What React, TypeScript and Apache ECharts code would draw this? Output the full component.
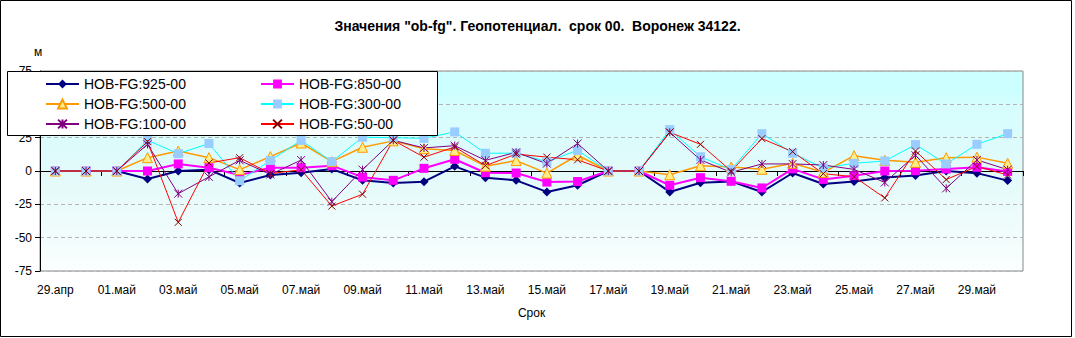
import React, { useEffect, useRef } from 'react';
import * as echarts from 'echarts';

const dates = [
  '29.апр', '30.апр', '01.май', '02.май', '03.май', '04.май', '05.май', '06.май',
  '07.май', '08.май', '09.май', '10.май', '11.май', '12.май', '13.май', '14.май',
  '15.май', '16.май', '17.май', '18.май', '19.май', '20.май', '21.май', '22.май',
  '23.май', '24.май', '25.май', '26.май', '27.май', '28.май', '29.май', '30.май',
];

const yTicks = [-75, -50, -25, 0, 25, 50, 75];

const s925 = [0, 0, 0, -6, 0, 1, -9, -3, -1.3, 1.5, -7, -9, -8, 3.5, -5, -7, -15.7, -10.7, 0, 0, -15.7, -8.8, -7.8, -15.7, -1.5, -9.7, -7.8, -4.8, -3.3, 0, -1.6, -7.2];
const s850 = [0, 0, 0, 0, 5.3, 2.5, -3, 2.4, 2.5, 4, -4.6, -7, 2, 8.8, -1.3, -1.5, -8.3, -7.9, 0, 0, -10.7, -5, -7.7, -12.7, 1.6, -6.3, -3.5, 0, 0.2, 1.5, 2.8, -0.3];
const s500 = [0, 0, 0, 10, 15, 10, 1, 10.8, 21, 7, 17.8, 22.6, 16.7, 15.4, 3.6, 7.8, -1.6, 11.8, 0, 0, -2.8, 4, 3, 1.3, 5.8, -1, 11.5, 8, 6.5, 10, 10.4, 5.8];
const s300 = [0, 0, 0, 23, 13, 20.6, -7.3, 7.9, 23, 7, 25.3, 25, 24.5, 29.3, 13.3, 13.4, 7, 15.5, 0, 0, 31, 10.7, 1, 28, 13.3, 2.2, 5.8, 7.5, 19.8, 5.3, 20, 28];
const s100 = [0, 0, 0, 20, -17, -4.4, 8, -2.6, 8.2, -23, 1, 23, 17.3, 19, 8, 14, 5.5, 20.6, 0, 0, 29, 8.3, -1, 5.3, 5.3, 4.5, 1.2, -8.6, 11.8, -13, 8.3, 1];
const s50 = [0, 0, 0, 22, -38.5, 6, 10, -2, 1, -26.3, -17.4, 23, 10.4, 18, 4, 12.7, 10.4, 8.4, 0, 0, 29, 20, 0, 24.3, 14.5, -2, -4.3, -20.2, 15, -6.4, 3.4, -3];

const names = ['HOB-FG:925-00', 'HOB-FG:850-00', 'HOB-FG:500-00', 'HOB-FG:300-00', 'HOB-FG:100-00', 'HOB-FG:50-00'];

const titleText = 'Значения "ob-fg". Геопотенциал.  срок 00.  Воронеж 34122.';

export default function App() {
  const ref = useRef<HTMLDivElement>(null);
  useEffect(() => {
    const chart = echarts.init(ref.current as HTMLDivElement, null, { renderer: 'svg' });
    const font = "'Liberation Sans', Arial, sans-serif";
    const mk = (name: string, data: number[], color: string, width: number, symbol: string, symbolSize: number, itemStyle: any) => ({
      type: 'line',
      name,
      data,
      symbol,
      symbolSize,
      showSymbol: true,
      showAllSymbol: true,
      lineStyle: { color, width },
      itemStyle,
      emphasis: { disabled: true },
      z: 3,
    });
    const legendCommon = {
      orient: 'vertical',
      itemWidth: 33,
      itemHeight: 11,
      itemGap: 6,
      padding: 0,
      selectedMode: false,
      z: 6,
      textStyle: { fontSize: 14, color: '#000', fontFamily: font },
    };
    chart.setOption({
      animation: false,
      title: {
        text: titleText,
        left: 'center',
        top: 14,
        textStyle: { fontSize: 14, fontWeight: 'bold', color: '#000', fontFamily: font },
      },
      grid: {
        left: 40,
        top: 71,
        width: 983,
        height: 200,
        show: true,
        borderColor: '#888',
        borderWidth: 1,
        backgroundColor: {
          type: 'linear', x: 0, y: 0, x2: 0, y2: 1,
          colorStops: [
            { offset: 0, color: '#ccffff' },
            { offset: 0.1, color: '#ccffff' },
            { offset: 0.17, color: '#d6fdfd' },
            { offset: 0.5, color: '#e2fafa' },
            { offset: 0.83, color: '#f2fcfc' },
            { offset: 1, color: '#fbfefe' },
          ],
        },
      },
      legend: [
        { ...legendCommon, left: 45, top: 77, data: [names[0], names[2], names[4]] },
        { ...legendCommon, left: 260, top: 77, data: [names[1], names[3], names[5]] },
      ],
      xAxis: {
        type: 'category',
        data: dates,
        boundaryGap: true,
        name: 'Срок',
        nameLocation: 'middle',
        nameGap: 36,
        nameTextStyle: { fontSize: 12, color: '#000', fontFamily: font },
        axisLine: { lineStyle: { color: '#000', width: 1 } },
        axisTick: { show: true, interval: 1, length: 5, lineStyle: { color: '#000' } },
        axisLabel: { interval: 1, fontSize: 12, color: '#000', margin: 13, fontFamily: font },
        splitLine: { show: false },
      },
      yAxis: {
        type: 'value',
        min: yTicks[0],
        max: yTicks[yTicks.length - 1],
        interval: 25,
        axisLine: { show: true, lineStyle: { color: '#000', width: 1 } },
        axisTick: { show: true, length: 5, lineStyle: { color: '#000' } },
        axisLabel: { fontSize: 12, color: '#000', margin: 8, fontFamily: font },
        splitLine: { show: true, lineStyle: { color: '#b4b4b4', type: [4, 3], width: 1 } },
      },
      graphic: [
        {
          type: 'rect', z: 0, silent: true,
          shape: { x: 0.5, y: 0.5, width: 1071, height: 336 },
          style: { fill: 'none', stroke: '#000', lineWidth: 1 },
        },
        {
          type: 'rect', z: 5, silent: true,
          shape: { x: 7.5, y: 71.5, width: 430, height: 64 },
          style: { fill: '#fff', stroke: '#000', lineWidth: 1 },
        },
        {
          type: 'text', z: 5, silent: true, left: 34, top: 46,
          style: { text: 'м', fontSize: 12, fill: '#000', fontFamily: font },
        },
      ],
      series: [
        mk(names[0], s925, '#000080', 2, 'diamond', 9, { color: '#000080' }),
        mk(names[1], s850, '#ff00ff', 2, 'rect', 9, { color: '#ff00ff' }),
        mk(names[2], s500, '#ff9900', 1.5, 'triangle', 10, { color: '#ffee88', borderColor: '#ff9900', borderWidth: 1 }),
        mk(names[3], s300, '#00ffff', 1, 'rect', 9, { color: '#99ccff' }),
        mk(names[4], s100, '#800080', 1, 'path://M5 0L5 10M0 0L10 10M10 0L0 10', 8, { color: '#800080', borderColor: '#800080', borderWidth: 1 }),
        mk(names[5], s50, '#ff0000', 1, 'path://M0 0L10 10M10 0L0 10', 7, { color: '#800000', borderColor: '#800000', borderWidth: 1 }),
      ],
    });
    return () => chart.dispose();
  }, []);
  return <div ref={ref} style={{ position: 'fixed', left: 0, top: 0, width: 1075, height: 338, background: '#fff' }} />;
}
